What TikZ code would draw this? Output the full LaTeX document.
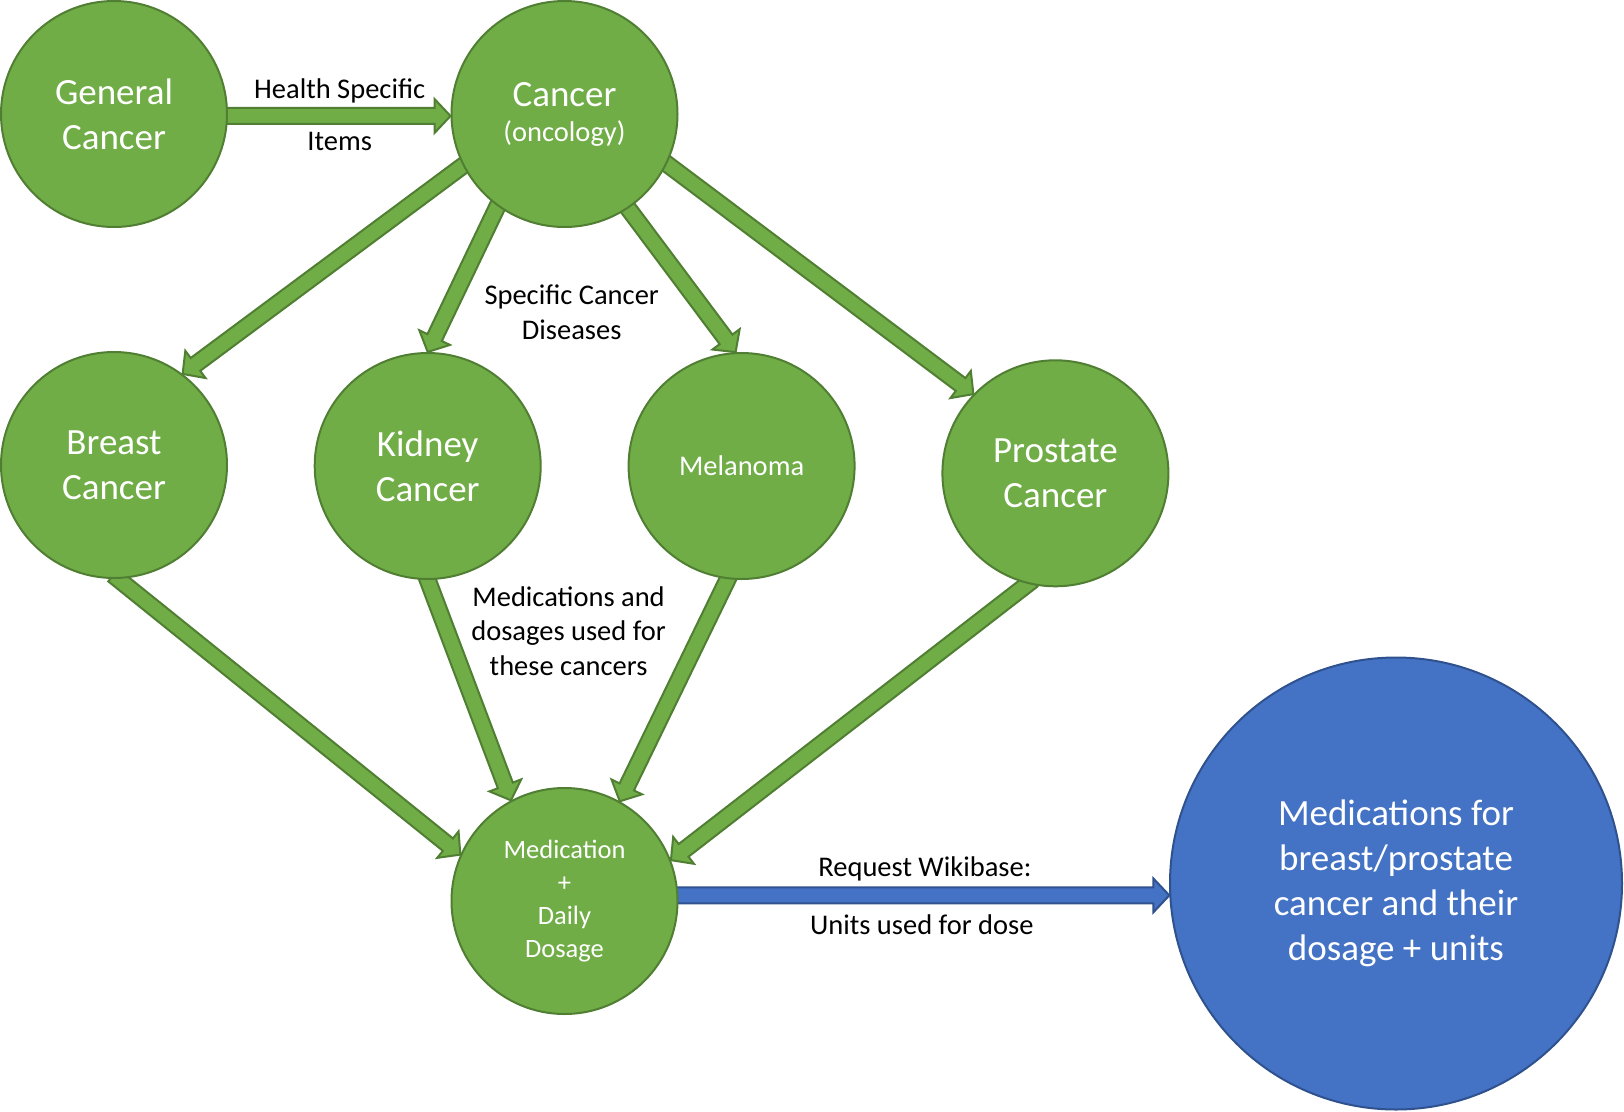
\documentclass[tikz,border=0pt]{standalone}
\usepackage{fontspec}
\setmainfont{Carlito}
\usetikzlibrary{calc}
\definecolor{gfill}{HTML}{70AD47}
\definecolor{gline}{HTML}{507E32}
\definecolor{bfill}{HTML}{4472C4}
\definecolor{bline}{HTML}{2F528F}
\tikzset{
 gcirc/.style={circle, fill=gfill, draw=gline, line width=2pt, minimum size=226pt, inner sep=0pt, text=white, align=center},
 bcirc/.style={circle, fill=bfill, draw=bline, line width=2pt, minimum size=452pt, inner sep=0pt, text=white, align=center},
 garr/.style={fill=gfill, draw=gline, line width=2pt, line join=miter},
 barr/.style={fill=bfill, draw=bline, line width=2pt, line join=miter},
 lbl/.style={text=black, align=center, inner sep=0pt, font=\fontsize{28.5}{34.5}\selectfont},
 bigtxt/.style={font=\fontsize{37}{45}\selectfont},
 midtxt/.style={font=\fontsize{28.5}{34}\selectfont},
 smalltxt/.style={font=\fontsize{26.5}{33}\selectfont},
}
\newcommand{\blockarr}[3]{%
  \coordinate (ba-a) at ($(#2)!-6pt!(#3)$);
  \coordinate (ba-c) at ($(#3)!16pt!(#2)$);
  \draw[#1] ($(ba-a)!8pt!90:(#3)$) -- ($(ba-c)!8pt!90:(#3)$) -- ($(ba-c)!17pt!90:(#3)$) -- (#3) -- ($(ba-c)!17pt!-90:(#3)$) -- ($(ba-c)!8pt!-90:(#3)$) -- ($(ba-a)!8pt!-90:(#3)$) -- cycle;
}
\begin{document}
\begin{tikzpicture}[x=1pt,y=-1pt]
\useasboundingbox (0,0) rectangle (1624,1111);
% node positions (invisible placeholders first for anchors)
\path
 (114,114) node[gcirc, draw=none, fill=none] (gen) {}
 (564.5,114) node[gcirc, draw=none, fill=none] (canc) {}
 (114,465) node[gcirc, draw=none, fill=none] (brst) {}
 (427.7,466) node[gcirc, draw=none, fill=none] (kid) {}
 (741.6,466) node[gcirc, draw=none, fill=none] (mel) {}
 (1055.4,473.3) node[gcirc, draw=none, fill=none] (pro) {}
 (564.5,901) node[gcirc, draw=none, fill=none] (med) {}
 (1396,883.5) node[bcirc, draw=none, fill=none] (blu) {};
% arrows (behind circles)
\blockarr{garr}{gen.359}{canc.181}
\blockarr{garr}{canc.207}{brst.53.5}
\blockarr{garr}{canc.234.8}{kid.90}
\blockarr{garr}{canc.304.6}{mel.93.7}
\blockarr{garr}{canc.334.4}{pro.136.5}
\blockarr{garr}{brst.272}{med.156}
\blockarr{garr}{kid.270}{med.118.4}
\blockarr{garr}{mel.263.8}{med.61.6}
\blockarr{garr}{pro.256}{med.21.8}
\blockarr{barr}{med.east |- blu.183.4}{blu.183.4}
% circles
\node[gcirc, bigtxt] (genC) at (gen) {General\\Cancer};
\node[gcirc] (cancC) at (canc) {{\fontsize{37}{40}\selectfont Cancer}\\[13pt]{\fontsize{28.5}{34}\selectfont (oncology)}};
\node[gcirc, bigtxt] (brstC) at (brst) {Breast\\Cancer};
\node[gcirc, bigtxt] (kidC) at (kid) {Kidney\\Cancer};
\node[gcirc, midtxt] (melC) at (mel) {Melanoma};
\node[gcirc, bigtxt] (proC) at (pro) {Prostate\\Cancer};
\node[gcirc, smalltxt] (medC) at (med) {Medication\\+\\Daily\\Dosage};
\node[bcirc, bigtxt] (bluC) at (blu) {Medications for\\breast/prostate\\cancer and their\\dosage + units};
% labels
\node[lbl] (l1) at (339.7,91) {Health Specific};
\node[lbl] (l2) at (339.7,141) {Items};
\node[lbl] (l3) at (571.7,312) {Specific Cancer\\Diseases};
\node[lbl] (l4) at (568.6,631) {Medications and\\dosages used for\\these cancers};
\node[lbl] (l5) at (924.9,869) {Request Wikibase:};
\node[lbl] (l6) at (921.8,925) {Units used for dose};
\end{tikzpicture}
\end{document}
